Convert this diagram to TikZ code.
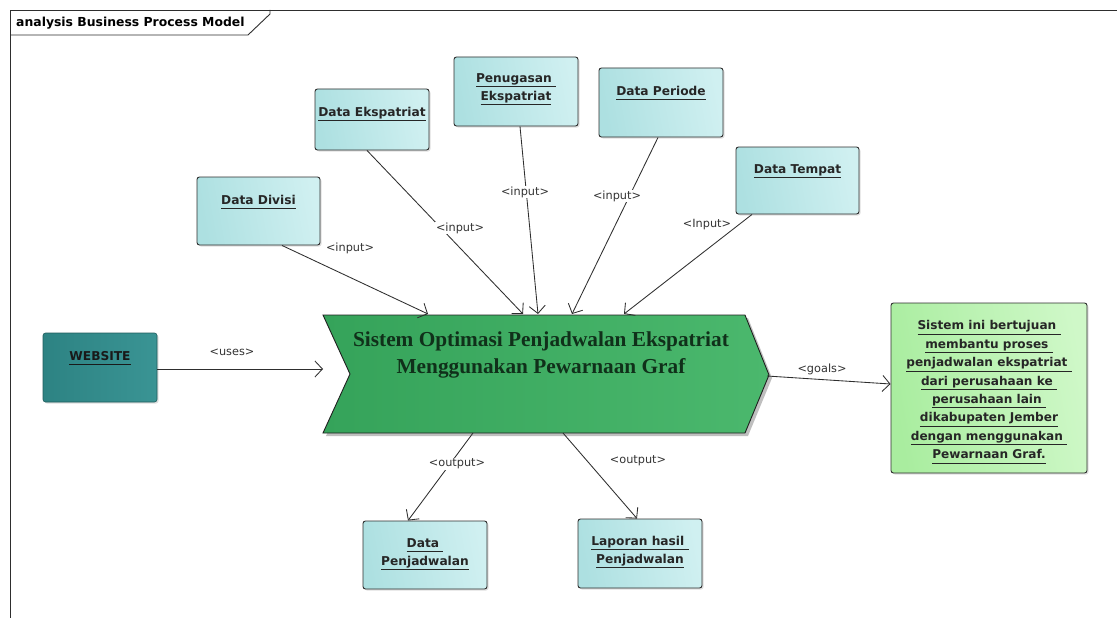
\documentclass[tikz,border=0pt]{standalone}
\usepackage{fontspec}
\setmainfont{DejaVu Sans}
\newfontfamily\serifbold{Liberation Serif}[BoldFont={* Bold}]
\usetikzlibrary{arrows.meta,shadows}

\definecolor{boxA}{HTML}{ADE0E1}
\definecolor{boxB}{HTML}{D0F0F1}
\definecolor{webA}{HTML}{2D8383}
\definecolor{webB}{HTML}{3A9494}
\definecolor{goalA}{HTML}{A9ED9F}
\definecolor{goalB}{HTML}{CFF8C8}
\definecolor{sysA}{HTML}{35A35A}
\definecolor{sysB}{HTML}{4BB86D}
\definecolor{sysText}{HTML}{10301A}
\definecolor{edge}{HTML}{2E2E2E}

% underline at a common depth for every line
\newcommand{\ulbl}[1]{\underline{#1\vphantom{pgj}}}

\tikzset{
  artifact/.style={draw=edge, line width=0.9pt, rounded corners=2.5pt,
    left color=boxA, right color=boxB, shading angle=100,
    drop shadow={shadow xshift=1.5pt, shadow yshift=-1.5pt, opacity=0.25}},
  boxtext/.style={font=\fontsize{12.2}{18.5}\selectfont\bfseries, align=center,
    text=black!85, inner sep=0pt, anchor=north},
  flow/.style={draw=edge, line width=0.85pt,
    -{Straight Barb[length=7.5pt, width=16pt, line width=0.85pt]}},
  tag/.style={font=\fontsize{11.3}{13}\selectfont, text=black!80, fill=white,
    inner sep=1pt}
}

\begin{document}
\begin{tikzpicture}[x=1pt, y=-1pt]
\useasboundingbox (0,0) rectangle (1117,618);
\fill[white] (0,0) rectangle (1117,618);

% diagram frame with its name tab
\draw[edge, line width=0.9pt] (10,618) -- (10,10) -- (1117,10);
\draw[edge, line width=0.9pt] (10,35) -- (248,35) -- (270,14) -- (270,10);
\node[font=\fontsize{12.4}{14}\selectfont\bfseries, anchor=west, inner sep=0pt]
  (frameName) at (16,23) {analysis Business Process Model};

% input artifacts
\node[artifact, minimum width=123, minimum height=68] (dd) at (258.5,211) {};
\node[boxtext] (ddt) at ([yshift=-18]dd.north) {\ulbl{Data Divisi}};

\node[artifact, minimum width=114, minimum height=61] (de) at (372,119.5) {};
\node[boxtext] (det) at ([yshift=-18]de.north) {\ulbl{Data Ekspatriat}};

\node[artifact, minimum width=124, minimum height=69] (pe) at (516,91.5) {};
\node[boxtext] (pet) at ([yshift=-16]pe.north) {\ulbl{Penugasan\ }\\\ulbl{Ekspatriat}};

\node[artifact, minimum width=124, minimum height=69] (dp) at (661,102.5) {};
\node[boxtext] (dpt) at ([yshift=-18]dp.north) {\ulbl{Data Periode}};

\node[artifact, minimum width=123, minimum height=67] (dt) at (797.5,180.5) {};
\node[boxtext] (dtt) at ([yshift=-17]dt.north) {\ulbl{Data Tempat}};

% resource
\node[draw=webA!70!black, line width=0.6pt, rounded corners=2.5pt,
  left color=webA, right color=webB, minimum width=114, minimum height=69,
  drop shadow={shadow xshift=1.5pt, shadow yshift=-1.5pt, opacity=0.25}]
  (web) at (100,367.5) {};
\node[boxtext, text=black!90] (webt) at ([yshift=-18]web.north) {\ulbl{WEBSITE}};

% goal
\node[draw=edge, line width=0.9pt, rounded corners=2.5pt,
  left color=goalA, right color=goalB, shading angle=100,
  minimum width=196, minimum height=170,
  drop shadow={shadow xshift=1.5pt, shadow yshift=-1.5pt, opacity=0.25}]
  (goal) at (989,388) {};
\node[boxtext, font=\fontsize{12.1}{18.4}\selectfont\bfseries] (goalt) at ([yshift=-18]goal.north)
  {\ulbl{Sistem ini bertujuan\ }\\
   \ulbl{membantu proses\ }\\
   \ulbl{penjadwalan ekspatriat\ }\\
   \ulbl{dari perusahaan ke\ }\\
   \ulbl{perusahaan lain\ }\\
   \ulbl{dikabupaten Jember}\\
   \ulbl{dengan menggunakan\ }\\
   \ulbl{Pewarnaan Graf.}};

% outputs
\node[artifact, minimum width=124, minimum height=68] (djp) at (425,555) {};
\node[boxtext] (djpt) at ([yshift=-17]djp.north) {\ulbl{Data\ }\\\ulbl{Penjadwalan}};

\node[artifact, minimum width=124, minimum height=69] (lap) at (640,553.5) {};
\node[boxtext] (lapt) at ([yshift=-17]lap.north) {\ulbl{Laporan hasil\ }\\\ulbl{Penjadwalan}};

% the process chevron
\fill[black, opacity=0.25] (326,318) -- (748,318) -- (772,378) -- (748,436)
  -- (326,436) -- (353,377) -- cycle;
\draw[edge!70!black, line width=0.9pt, left color=sysA, right color=sysB]
  (323,315) -- (745,315) -- (769,375) -- (745,433) -- (323,433) -- (350,374) -- cycle;
\node[font=\serifbold\fontsize{21.3}{27}\selectfont\bfseries, text=sysText,
  align=center, inner sep=0pt] (sys) at (541,355)
  {Sistem Optimasi Penjadwalan Ekspatriat\\Menggunakan Pewarnaan Graf};

% points on the chevron outline
\coordinate (inA) at (428,314);
\coordinate (inB) at (523,314);
\coordinate (inC) at (538,314);
\coordinate (inD) at (572,314);
\coordinate (inE) at (624,314);
\coordinate (useIn) at (323,369);
\coordinate (goalOut) at (767,376);
\coordinate (outA) at (473,433);
\coordinate (outB) at (563,433);

% connectors
\draw[flow] ([xshift=23.5]dd.south) -- (inA);
\draw[flow] ([xshift=-5]de.south) -- (inB);
\draw[flow] ([xshift=4]pe.south) -- (inC);
\draw[flow] ([xshift=-3]dp.south) -- (inD);
\draw[flow] ([xshift=-45.5]dt.south) -- (inE);
\draw[flow] ([yshift=-1.5]web.east) -- (useIn);
\draw[flow] (goalOut) -- ([yshift=4]goal.west);
\draw[flow] (outA) -- ([xshift=-17]djp.north);
\draw[flow] (outB) -- ([xshift=-3]lap.north);

% connector tags
\node[tag, fill=none] (tA) at (350,248) {<input>};
\node[tag] (tB) at (460,228) {<input>};
\node[tag] (tC) at (525,192) {<input>};
\node[tag] (tD) at (617,196) {<input>};
\node[tag, fill=none] (tE) at (707,225) {<Input>};
\node[tag, fill=none] (tU) at (232,352) {<uses>};
\node[tag, fill=none] (tG) at (822,369) {<goals>};
\node[tag] (tO1) at (457,464) {<output>};
\node[tag, fill=none] (tO2) at (638,461) {<output>};
\end{tikzpicture}
\end{document}
